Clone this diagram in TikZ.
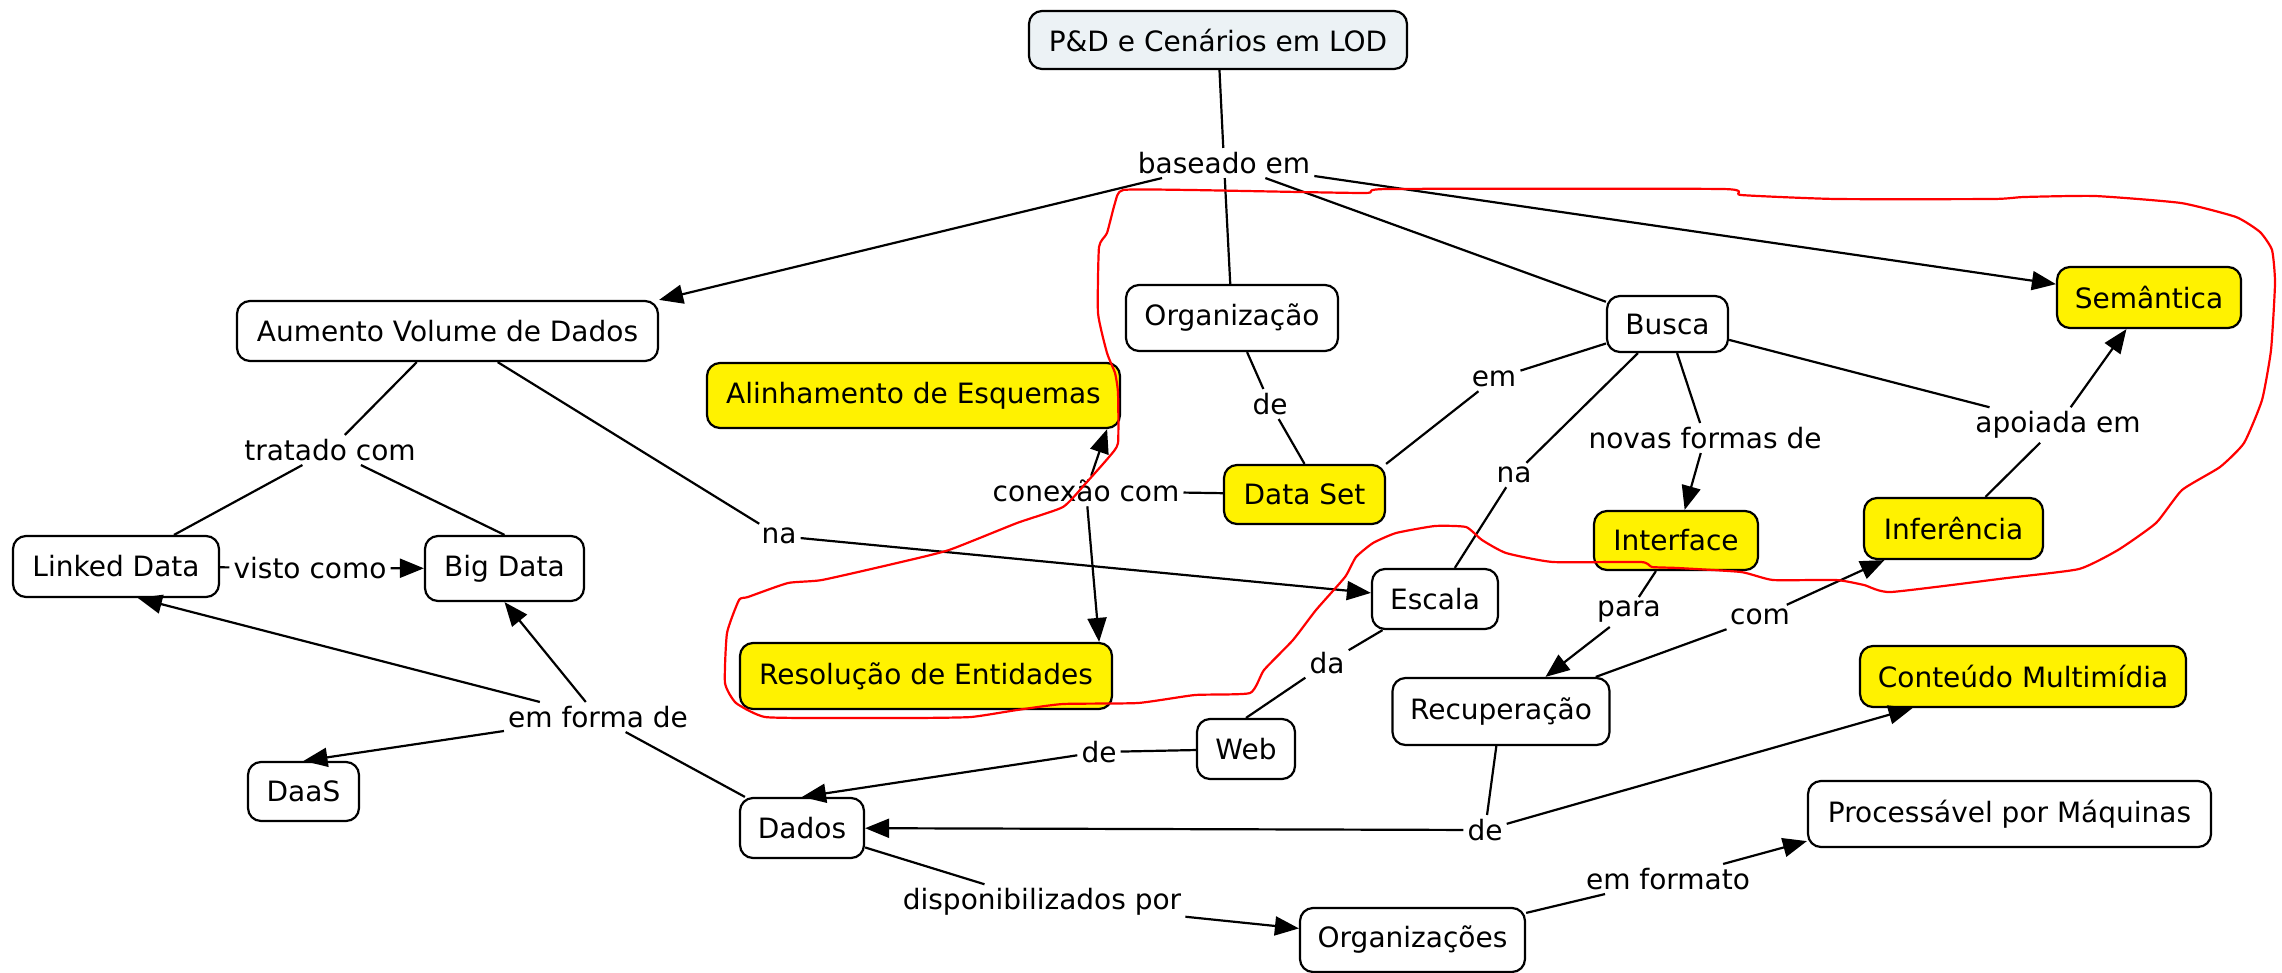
\documentclass[tikz,border=0pt]{standalone}
\usepackage{fontspec}
\setmainfont{DejaVu Sans}
\usetikzlibrary{arrows.meta}
\begin{document}
\begin{tikzpicture}[x=1pt,y=-1pt,
  every node/.style={font=\fontsize{28}{33}\selectfont},
  concept/.style={draw=black, line width=2.2pt, rounded corners=13pt, fill=white, inner sep=0pt, align=center},
  hl/.style={concept, fill=yellow},
  lbl/.style={inner sep=4pt},
  conn/.style={line width=2.2pt},
  arr/.style={conn, -{Triangle[length=24pt,width=19pt]}},
]
\fill[white] (0,0) rectangle (2282,972);
\useasboundingbox (0,0) rectangle (2282,972);

% concepts
\node[concept, fill={rgb,255:red,236;green,242;blue,245}, minimum width=378pt, minimum height=58pt] (pd) at (1218,40) {P\&D e Cenários em LOD};
\node[concept, minimum width=421pt, minimum height=60pt] (aum) at (447.5,331) {Aumento Volume de Dados};
\node[concept, minimum width=212pt, minimum height=66pt] (org) at (1232,318) {Organização};
\node[concept, minimum width=121pt, minimum height=56pt] (busca) at (1667.5,324) {Busca};
\node[hl, minimum width=184pt, minimum height=61pt] (sem) at (2149,297.5) {Semântica};
\node[hl, minimum width=413pt, minimum height=65pt] (alin) at (913.5,395.5) {Alinhamento de Esquemas};
\node[hl, minimum width=161pt, minimum height=59pt] (ds) at (1304.5,494.5) {Data Set};
\node[concept, minimum width=206pt, minimum height=61pt] (ld) at (116,566.5) {Linked Data};
\node[concept, minimum width=159pt, minimum height=65pt] (bd) at (504.5,568.5) {Big Data};
\node[hl, minimum width=164pt, minimum height=59pt] (intf) at (1676,540.5) {Interface};
\node[hl, minimum width=179pt, minimum height=61pt] (inf) at (1953.5,528.5) {Inferência};
\node[concept, minimum width=126pt, minimum height=60pt] (esc) at (1435,599) {Escala};
\node[hl, minimum width=372pt, minimum height=66pt] (res) at (926,676) {Resolução de Entidades};
\node[concept, minimum width=217pt, minimum height=67pt] (rec) at (1501,711.5) {Recuperação};
\node[hl, minimum width=326pt, minimum height=61pt] (cm) at (2023,676.5) {Conteúdo Multimídia};
\node[concept, minimum width=98pt, minimum height=60pt] (web) at (1246,749) {Web};
\node[concept, minimum width=124pt, minimum height=60pt] (dados) at (802,828) {Dados};
\node[concept, minimum width=403pt, minimum height=66pt] (proc) at (2009.5,814) {Processável por Máquinas};
\node[concept, minimum width=225pt, minimum height=64pt] (orgs) at (1412.5,940) {Organizações};
\node[concept, minimum width=111pt, minimum height=59pt] (daas) at (303.5,791.5) {DaaS};

% linking phrases
\node[lbl] (l_base) at (1224,163) {baseado em};
\node[lbl] (l_trat) at (330,450) {tratado com};
\node[lbl] (l_na1) at (779,536) {na};
\node[lbl] (l_visto) at (310,568) {visto como};
\node[lbl] (l_con) at (1086,491) {conexão com};
\node[lbl] (l_de1) at (1270,404) {de};
\node[lbl] (l_em) at (1494,379) {em};
\node[lbl] (l_na2) at (1514,475) {na};
\node[lbl] (l_novas) at (1705,438) {novas formas de};
\node[lbl] (l_apo) at (2058,425) {apoiada em};
\node[lbl] (l_para) at (1629,612) {para};
\node[lbl] (l_com) at (1760,617) {com};
\node[lbl] (l_da) at (1327,663) {da};
\node[lbl] (l_de2) at (1099,752) {de};
\node[lbl] (l_de3) at (1485,830) {de};
\node[lbl] (l_forma) at (598,717) {em forma de};
\node[lbl] (l_disp) at (1042,902) {disponibilizados por};
\node[lbl] (l_fmt) at (1668,879) {em formato};

% connectors
\draw[conn] (pd) -- (l_base);
\draw[arr] (l_base) -- (aum.north east);
\draw[conn] (l_base) -- (org);
\draw[conn] (l_base) -- (busca);
\draw[arr] (l_base) -- (sem);
\draw[conn] (aum) -- (l_trat);
\draw[conn] (l_trat) -- (ld);
\draw[conn] (l_trat) -- (bd.north);
\draw[conn] (aum) -- (l_na1);
\draw[arr] (l_na1) -- (esc);
\draw[conn] (ld) -- (l_visto);
\draw[arr] (l_visto) -- (bd);
\draw[conn] (org) -- (l_de1);
\draw[conn] (l_de1) -- (ds.north);
\draw[conn] (ds) -- (l_con);
\draw[arr] (l_con) -- ([xshift=-14pt]alin.south east);
\draw[arr] (l_con) -- ([xshift=-14pt]res.north east);
\draw[conn] (busca) -- (l_em);
\draw[conn] (l_em) -- (ds.north east);
\draw[conn] (busca) -- (l_na2);
\draw[conn] (l_na2) -- (esc);
\draw[conn] (busca) -- (l_novas);
\draw[arr] (l_novas) -- (intf);
\draw[conn] (busca) -- (l_apo);
\draw[conn] (inf) -- (l_apo);
\draw[arr] (l_apo) -- (sem);
\draw[conn] (intf) -- (l_para);
\draw[arr] (l_para) -- (rec);
\draw[conn] (rec) -- (l_com);
\draw[arr] (l_com) -- (inf);
\draw[conn] (esc) -- (l_da);
\draw[conn] (l_da) -- (web.north);
\draw[conn] (web) -- (l_de2);
\draw[arr] (l_de2) -- (dados.north);
\draw[conn] (rec) -- (l_de3);
\draw[arr] (l_de3) -- (dados);
\draw[arr] (l_de3) -- (cm);
\draw[conn] (dados) -- (l_forma);
\draw[arr] (l_forma) -- ([xshift=22pt]ld.south);
\draw[arr] (l_forma) -- (bd.south);
\draw[arr] (l_forma) -- (daas.north);
\draw[conn] (dados) -- (l_disp);
\draw[arr] (l_disp) -- (orgs);
\draw[conn] (orgs) -- (l_fmt);
\draw[arr] (l_fmt) -- ([yshift=7pt]proc.south west);

% red freehand outline
\draw[red, line width=2.2pt, line join=round] plot[smooth cycle, tension=0.3] coordinates {
(1123,190) (1191,190) (1364,193) (1388,189) (1722,189) (1741,195) (1836,199) (1993,199)
(2024,197) (2095,196) (2181,203) (2236,217) (2260,232) (2272,250) (2275,283) (2271,350)
(2262,400) (2244,443) (2220,467) (2182,490) (2156,523) (2118,550) (2079,569) (2007,578)
(1891,592) (1864,585) (1836,580) (1773,580) (1741,572) (1678,568) (1652,567) (1641,562)
(1553,562) (1506,553) (1482,540) (1466,527) (1435,526) (1396,533) (1373,543) (1356,557)
(1345,577) (1316,610) (1293,640) (1264,670) (1250,693) (1195,695) (1138,703) (1063,704)
(1017,710) (971,717) (914,718) (834,718) (765,717) (736,703) (725,683) (727,633)
(739,600) (748,597) (788,583) (822,580) (897,563) (949,550) (1017,523) (1063,507)
(1086,483) (1109,457) (1118,443) (1118,393) (1115,373) (1107,353) (1098,313) (1099,247)
(1107,233) (1115,203)};
\end{tikzpicture}
\end{document}
